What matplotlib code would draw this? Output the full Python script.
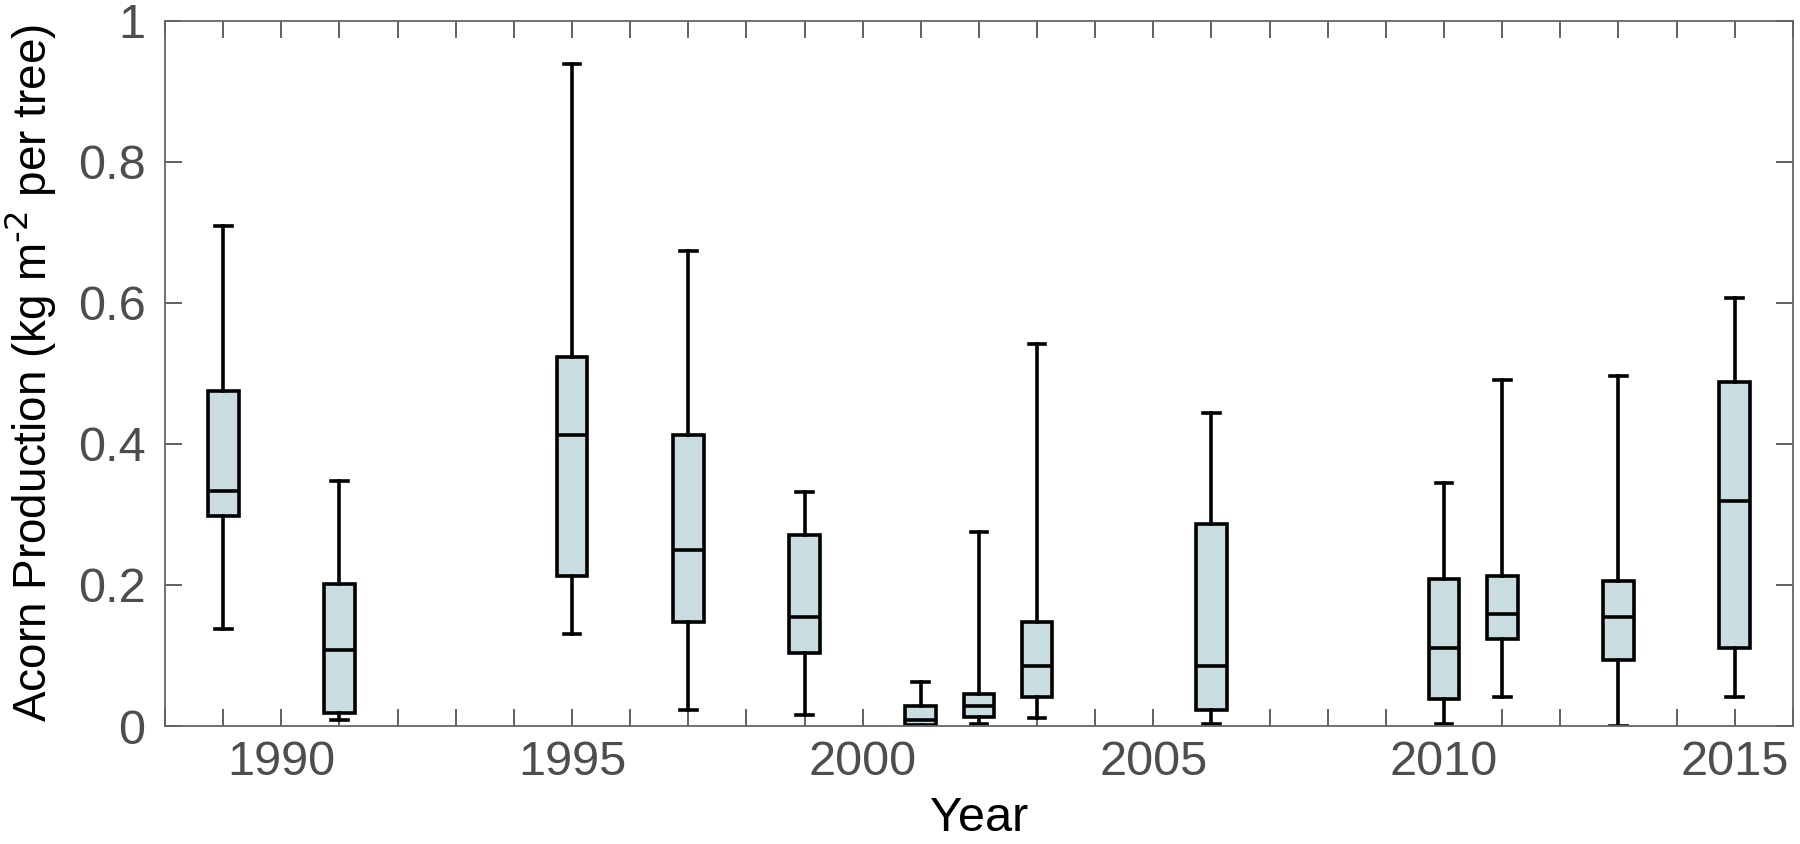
import matplotlib
matplotlib.use("Agg")
import matplotlib.pyplot as plt

plt.rcParams['font.family'] = ['Liberation Sans', 'DejaVu Sans']

# 各年份的箱形統計值
years   = [1989, 1991, 1995, 1997, 1999, 2001, 2002, 2003, 2006, 2010, 2011, 2013, 2015]
whis_lo = [0.138, 0.009, 0.130, 0.022, 0.015, 0.000, 0.003, 0.011, 0.003, 0.003, 0.041, 0.000, 0.041]
q1      = [0.298, 0.019, 0.213, 0.148, 0.104, 0.002, 0.013, 0.041, 0.022, 0.039, 0.124, 0.094, 0.110]
median  = [0.333, 0.108, 0.412, 0.249, 0.154, 0.008, 0.029, 0.085, 0.085, 0.110, 0.159, 0.155, 0.319]
q3      = [0.475, 0.201, 0.523, 0.413, 0.271, 0.028, 0.045, 0.148, 0.287, 0.209, 0.213, 0.206, 0.488]
whis_hi = [0.709, 0.348, 0.938, 0.673, 0.332, 0.062, 0.275, 0.542, 0.444, 0.345, 0.490, 0.496, 0.607]

xticks = list(range(1988, 2017))
xlabels = [str(y) if y % 5 == 0 else '' for y in xticks]
yticks = [0, 0.2, 0.4, 0.6, 0.8, 1]
ylabels = ['0', '0.2', '0.4', '0.6', '0.8', '1']

stats = []
for i in range(len(years)):
    stats.append({'med': median[i], 'q1': q1[i], 'q3': q3[i],
                  'whislo': whis_lo[i], 'whishi': whis_hi[i], 'fliers': []})

fig = plt.figure(figsize=(18, 8.44), dpi=100)
ax = fig.add_axes([0.0917, 0.1398, 0.9043, 0.8357])

lw = 2.6
ax.bxp(stats, positions=years, widths=0.53, patch_artist=True, showfliers=False,
       boxprops=dict(facecolor='#c9dde0', edgecolor='black', linewidth=lw),
       medianprops=dict(color='black', linewidth=lw),
       whiskerprops=dict(color='black', linewidth=lw),
       capprops=dict(color='black', linewidth=lw), capwidths=0.29)

ax.set_xlim(1988, 2016)
ax.set_ylim(0, 1)
ax.set_xticks(xticks)
ax.set_xticklabels(xlabels)
ax.set_yticks(yticks)
ax.set_yticklabels(ylabels)

grey = '#4d4d4d'
for s in ax.spines.values():
    s.set_color('#666666')
    s.set_linewidth(1.3)
ax.tick_params(direction='in', length=12, width=1.3, color='#555555',
               top=True, right=True, labelsize=35, labelcolor=grey, pad=10)
ax.tick_params(axis='y', pad=14)

ax.set_xlabel('Year', fontsize=35, labelpad=8)
ax.set_ylabel(r'Acorn Production (kg m$^{\text{-}2}$ per tree)', fontsize=33, labelpad=14)

fig.savefig('out.png', dpi=100)
